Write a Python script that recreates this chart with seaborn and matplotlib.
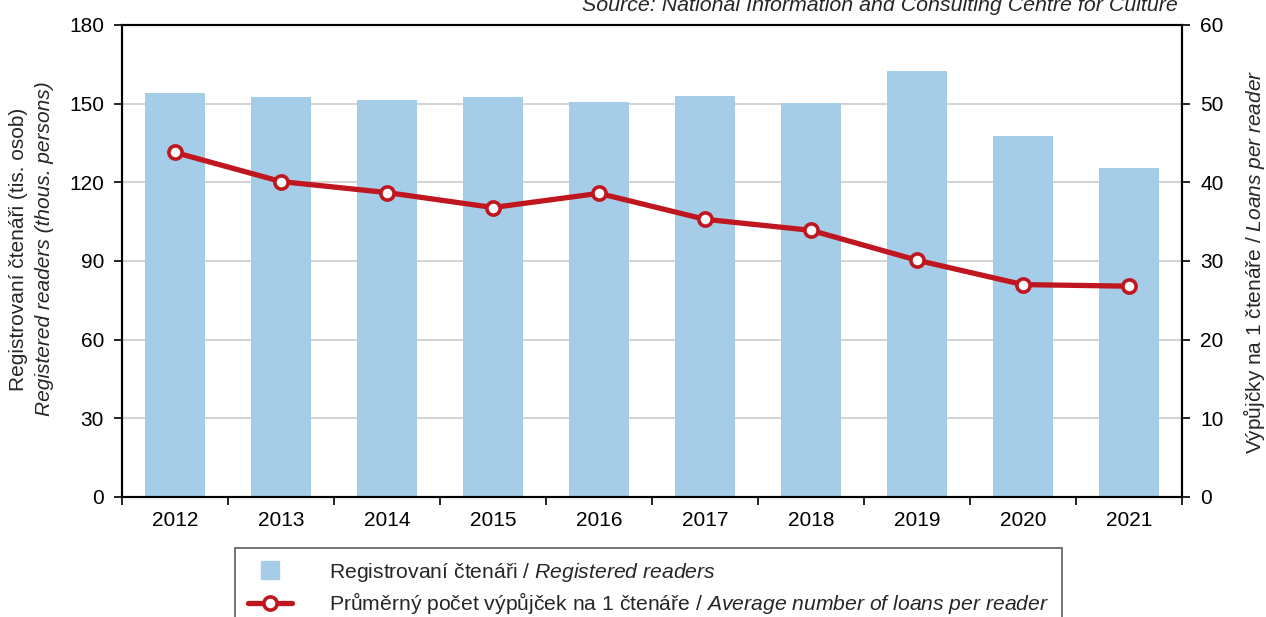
import matplotlib
matplotlib.use("Agg")
import matplotlib.pyplot as plt
import seaborn as sns
import pandas as pd
from matplotlib.lines import Line2D
from matplotlib.ticker import FixedLocator, MultipleLocator

# Registered readers (thous. persons) and average loans per reader
years = ["2012", "2013", "2014", "2015", "2016", "2017", "2018", "2019", "2020", "2021"]
readers = [154.0, 152.7, 151.5, 152.5, 150.5, 152.9, 150.4, 162.5, 137.6, 125.3]
loans = [43.8, 40.1, 38.7, 36.8, 38.6, 35.3, 33.9, 30.1, 27.0, 26.8]

left_ticks = [0, 30, 60, 90, 120, 150, 180]
right_ticks = [0, 10, 20, 30, 40, 50, 60]

BAR = "#a6cde8"
RED = "#c0161f"
FS = 15

sns.set_theme(style="white")
plt.rcParams["font.family"] = ["Liberation Sans", "DejaVu Sans"]
plt.rcParams["mathtext.fontset"] = "custom"
plt.rcParams["mathtext.rm"] = "Liberation Sans"
plt.rcParams["mathtext.it"] = "Liberation Sans:italic"

df = pd.DataFrame({"year": years, "readers": readers, "loans": loans})

fig = plt.figure(figsize=(12.66, 6.17), dpi=100)
ax = fig.add_axes([122 / 1266, 1 - 497 / 617, 1060 / 1266, 472 / 617])

sns.barplot(data=df, x="year", y="readers", color=BAR, saturation=1,
            width=0.56, ax=ax, zorder=2)
for p in ax.patches:
    p.set_edgecolor("none")

ax.set_ylim(0, 180)
ax.yaxis.set_major_locator(FixedLocator(left_ticks))
ax.set_axisbelow(True)
ax.grid(axis="y", color="#c8c8c8", linewidth=1.1, zorder=0)
ax.set_xlim(-0.5, len(years) - 0.5)
ax.set_xlabel("")
ax.set_ylabel("")

ax2 = ax.twinx()
sns.pointplot(data=df, x="year", y="loans", ax=ax2, color=RED,
              linewidth=3.8, markersize=9.5, marker="o",
              markerfacecolor="white", markeredgecolor=RED,
              markeredgewidth=2.6)
ax2.set_ylim(0, 60)
ax2.yaxis.set_major_locator(FixedLocator(right_ticks))
ax2.set_xlim(-0.5, len(years) - 0.5)
ax2.set_xlabel("")
ax2.set_ylabel("")
ax2.grid(False)

# category boundary tick marks on the x-axis
ax.xaxis.set_minor_locator(MultipleLocator(1, offset=0.5))
ax.tick_params(axis="x", which="major", length=0, pad=10, labelsize=FS, colors="black")
ax.tick_params(axis="x", which="minor", bottom=True, length=6, width=1.2, color="black")
ax.tick_params(axis="y", which="major", left=True, length=6, width=1.2,
               pad=7, labelsize=FS, colors="black", direction="out")
ax2.tick_params(axis="y", which="major", right=True, length=6, width=1.2,
                pad=7, labelsize=FS, colors="black", direction="out")

for a in (ax, ax2):
    for s in a.spines.values():
        s.set_visible(True)
        s.set_color("black")
        s.set_linewidth(1.5)

# axis titles
fig.text(19 / 1266, 1 - 249 / 617, "Registrovaní čtenáři (tis. osob)",
         rotation=90, ha="center", va="center", fontsize=FS)
fig.text(45 / 1266, 1 - 249 / 617, "Registered readers (thous. persons)",
         rotation=90, ha="center", va="center", fontsize=FS, style="italic")
fig.text(1254 / 1266, 1 - 262 / 617,
         r"Výpůjčky na 1 čtenáře / $\mathit{Loans\ per\ reader}$",
         rotation=90, ha="center", va="center", fontsize=FS)

fig.text(1178 / 1266, 1 - 11 / 617,
         "Source: National Information and Consulting Centre for Culture",
         ha="right", va="baseline", fontsize=15.4, style="italic")

handles = [
    Line2D([], [], ls="none", marker="s", markersize=12.5, color=BAR),
    Line2D([], [], color=RED, lw=3.8, marker="o", markersize=9.5,
           markerfacecolor="white", markeredgecolor=RED, markeredgewidth=2.6),
]
labels = [
    r"Registrovaní čtenáři / $\mathit{Registered\ readers}$",
    r"Průměrný počet výpůjček na 1 čtenáře / $\mathit{Average\ number\ of\ loans\ per\ reader}$",
]
leg = fig.legend(handles, labels, loc="upper left",
                 bbox_to_anchor=(235 / 1266, 1 - 548 / 617),
                 frameon=True, fancybox=False, fontsize=15.2,
                 handlelength=2.1, handletextpad=1.75, labelspacing=0.3,
                 borderpad=0.6, borderaxespad=0)
leg.get_frame().set_edgecolor("#444444")
leg.get_frame().set_linewidth(1.3)

fig.savefig("out.png", dpi=100)
